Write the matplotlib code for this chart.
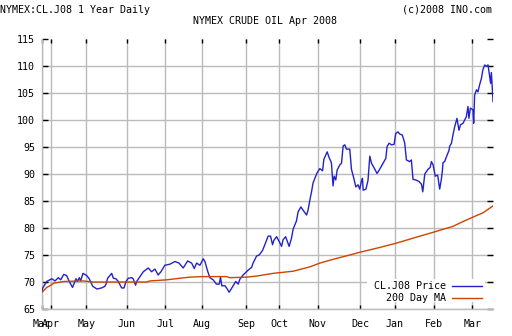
import matplotlib.pyplot as plt
from matplotlib.patches import Rectangle

# trading-day index -> price
price_day = [0, 0.4, 2.6, 5.3, 7.1, 8.9, 10.2, 11.8, 13.4, 14.8, 16.6, 18.5, 19.2, 20.3, 21.0,
             22.3, 24.3, 25.7, 27.6, 29.9, 32.4, 34.2, 34.8, 35.7, 37.9, 38.8, 40.2, 41.5, 43.3,
             44.6, 45.7, 46.9, 48.8, 49.6, 50.9, 51.5, 53.3, 55.1, 57.8, 59.6, 61.4, 63.2, 64.7,
             66.8, 69.6, 72.3, 74.5, 76.8, 79.2, 81.4, 82.8, 84.1, 85.9, 87.7, 88.6, 90.1, 91.3,
             93.1, 94.9, 96.4, 97.1, 97.8, 99.5, 100.4, 101.8, 104.0, 105.4, 106.7, 107.6, 109.4,
             112.1, 114.0, 114.8, 116.7, 118.1, 119.9, 121.2, 123.0, 124.3, 125.4, 126.1, 127.6,
             129.0, 130.3, 131.1, 132.5, 134.4, 135.7, 136.6, 138.4, 139.3, 140.8, 142.0, 143.9,
             144.7, 145.7, 146.6, 147.4, 148.4, 149.6, 151.1, 152.6, 153.3, 154.7, 155.1, 156.1,
             157.4, 158.3, 158.9, 159.8, 160.5, 162.0, 162.9, 163.8, 164.7, 165.6, 167.4, 168.3,
             169.6, 170.7, 171.9, 172.8, 173.7, 174.3, 174.7, 176.2, 177.3, 178.3, 179.2, 181.0,
             182.2, 183.7, 185.5, 187.0, 187.7, 188.8, 190.1, 191.5, 192.4, 193.6, 194.6, 196.0,
             197.3, 198.2, 200.0, 200.9, 201.8, 203.3, 205.1, 206.4, 207.1, 208.2, 210.0, 211.1,
             211.8, 212.7, 213.9, 215.2, 216.3, 217.2, 217.8, 218.1, 219.0, 220.1, 221.4, 221.7,
             222.7, 223.5, 224.5, 225.7, 226.8, 227.6, 229.0, 230.8, 231.7, 232.2, 233.0, 234.4,
             234.8, 235.3, 236.3, 237.1, 238.0, 239.0, 239.8, 240.8, 241.7, 242.6, 243.5, 244.0,
             244.4, 244.9, 245.3]
price = [68.3, 68.9, 70.1, 70.6, 70.2, 70.8, 70.4, 71.4, 71.2, 70.1, 69.0, 70.6, 70.1, 70.8, 70.2,
         71.6, 71.2, 70.6, 69.2, 68.7, 68.9, 69.2, 69.6, 70.7, 71.6, 70.7, 70.6, 70.1, 68.9,
         68.9, 70.1, 70.7, 70.8, 70.6, 69.4, 70.1, 71.0, 71.9, 72.6, 71.9, 72.4, 71.3, 71.9,
         73.1, 73.3, 73.8, 73.5, 72.6, 73.9, 73.5, 72.5, 73.5, 73.1, 74.3, 73.8, 72.0, 70.8,
         70.4, 69.6, 69.6, 70.9, 69.3, 69.3, 68.9, 68.1, 69.3, 70.1, 69.6, 70.5, 71.3,
         72.2, 72.7, 73.5, 74.8, 75.0, 75.8, 76.9, 78.5, 78.5, 76.9, 77.7, 78.4,
         77.5, 76.6, 77.8, 78.4, 76.6, 78.1, 79.8, 81.3, 83.0, 83.9, 83.3, 82.4,
         83.3, 85.2, 86.7, 88.3, 89.2, 90.2, 91.0, 90.6, 92.7, 93.8, 94.1, 93.1,
         92.1, 87.8, 89.6, 88.9, 90.7, 91.7, 92.0, 95.2, 95.4, 94.6, 94.6, 90.9,
         89.2, 87.6, 88.0, 87.2, 88.6, 89.2, 87.0, 87.2, 88.8, 93.3, 92.0, 90.9,
         90.1, 90.9, 92.0, 92.9, 95.1, 95.7, 95.4, 95.5, 97.5, 97.8, 97.4, 97.2,
         95.7, 92.6, 92.3, 92.6, 89.0, 88.9, 88.6, 88.1, 86.7, 90.0, 90.9, 91.2,
         92.3, 91.7, 89.6, 89.8, 87.2, 89.0, 90.7, 92.1, 92.3, 93.3, 94.4, 95.1,
         95.7, 97.2, 98.8, 100.3, 98.1, 99.1, 99.4, 100.6, 102.5, 100.3, 102.2, 101.9,
         99.4, 104.6, 105.6, 105.2, 106.5, 107.7, 109.3, 110.2, 109.9, 110.2, 108.0, 106.8,
         108.8, 106.0, 103.4]

ma_day = [0, 2.6, 4.3, 6.5, 12, 22.4, 27.9, 56.9, 58.7, 67.8, 75, 80.4, 87.7, 100.4, 102.2,
          111.3, 116.7, 125.7, 136.6, 145.7, 151.1, 158.3, 167.4, 172.8, 183.7, 192.8, 203.6,
          212.7, 223.5, 229, 236.3, 239.8, 245.3]
ma200 = [68.1, 69.0, 69.3, 69.8, 70.1, 70.2, 70.0, 70.0, 70.2, 70.4, 70.7, 70.9, 71.0, 71.0, 70.8,
         70.9, 71.1, 71.6, 72.0, 72.8, 73.5, 74.2, 75.0, 75.5, 76.4, 77.2, 78.3,
         79.2, 80.3, 81.2, 82.3, 82.8, 84.1]

month_pos = [0, 5, 24, 46, 67, 87, 111, 129, 150, 173, 192, 213, 234]
month_lbl = ['Mar', 'Apr', 'May', 'Jun', 'Jul', 'Aug', 'Sep', 'Oct', 'Nov', 'Dec', 'Jan', 'Feb', 'Mar']
y_ticks = [65, 70, 75, 80, 85, 90, 95, 100, 105, 110, 115]

plt.rcParams['font.family'] = 'DejaVu Sans Mono'
plt.rcParams['font.size'] = 7.2

fig = plt.figure(figsize=(5.12, 3.36), dpi=100)
ax = fig.add_axes([42 / 512, 27 / 336, 451 / 512, 270 / 336])

ax.plot(price_day, price, color='#2222cc', lw=1.0, zorder=3)
ax.plot(ma_day, ma200, color='#cc4400', lw=1.0, zorder=3)

ax.set_xlim(0, 245.3)
ax.set_ylim(65, 115)
ax.set_xticks(month_pos)
ax.set_xticklabels(month_lbl)
ax.set_yticks(y_ticks)

ax.grid(True, color='#bbbbbb', lw=1.0)
ax.yaxis.get_gridlines()[-1].set_visible(False)
ax.set_axisbelow(True)
for s in ['top', 'right']:
    ax.spines[s].set_visible(False)
for s in ['left', 'bottom']:
    ax.spines[s].set_color('#bbbbbb')
    ax.spines[s].set_linewidth(1.0)
ax.tick_params(axis='both', direction='in', length=3, width=1, color='black', colors='black')
ax.tick_params(axis='x', top=True, pad=7)
ax.tick_params(axis='y', right=True, length=4, pad=5)

# legend box (kept clear of the right-hand ticks)
ax.add_patch(Rectangle((0.72, 0.025), 0.262, 0.085, transform=ax.transAxes,
                       facecolor='white', edgecolor='none', zorder=4))
ax.text(0.895, 0.085, 'CL.J08 Price', transform=ax.transAxes, ha='right', va='center', zorder=5)
ax.text(0.895, 0.04, '200 Day MA', transform=ax.transAxes, ha='right', va='center', zorder=5)
ax.plot([0.91, 0.975], [0.085, 0.085], transform=ax.transAxes, color='#2222cc', lw=1.0, zorder=5)
ax.plot([0.91, 0.975], [0.04, 0.04], transform=ax.transAxes, color='#cc4400', lw=1.0, zorder=5)

fig.text(0 / 512, 1 - 10 / 336, 'NYMEX:CL.J08 1 Year Daily', ha='left', va='center')
fig.text(492 / 512, 1 - 10 / 336, '(c)2008 INO.com', ha='right', va='center')
fig.text(265 / 512, 1 - 21 / 336, 'NYMEX CRUDE OIL Apr 2008', ha='center', va='center')

fig.savefig('out.png', dpi=100)
